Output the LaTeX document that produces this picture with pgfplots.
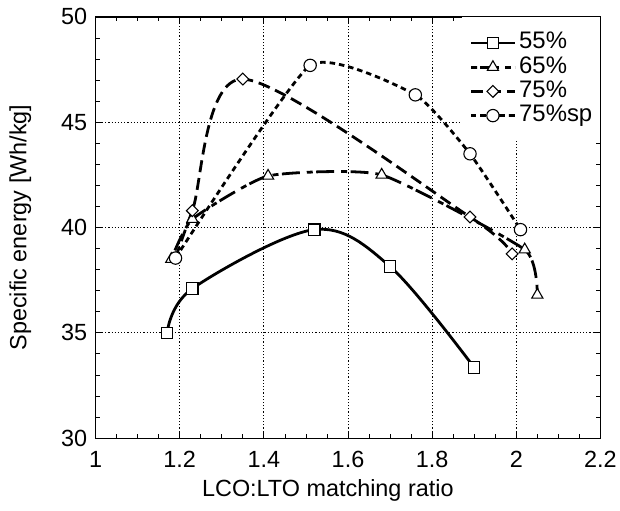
\documentclass[border=0pt]{standalone}
\usepackage{fontspec}
\setmainfont{Liberation Sans}
\usepackage{pgfplots}
\pgfplotsset{compat=1.18}
\begin{document}
\begin{tikzpicture}
\begin{axis}[
 scale only axis, width=507bp, height=423bp,
 xmin=1, xmax=2.2, ymin=30, ymax=50,
 xtick={1,1.2,1.4,1.6,1.8,2,2.2},
 ytick={30,35,40,45,50},
 minor x tick num=3, minor y tick num=4,
 tick align=inside,
 major tick length=7bp, minor tick length=4bp,
 every tick/.style={black, line width=0.8bp},
 axis line style={line width=1.2bp},
 grid=major,
 major grid style={black, line width=0.8bp, dash pattern=on 1.2bp off 2bp},
 /pgf/number format/assume math mode=true,
 tick label style={font=\fontsize{23.5bp}{28bp}\selectfont},
 yticklabel style={xshift=-5bp},
 xticklabel style={yshift=-10bp},
 label style={font=\fontsize{23.5bp}{28bp}\selectfont},
 xlabel={LCO:LTO matching ratio},
 ylabel={Specific energy [Wh/kg]},
 xlabel style={at={(axis description cs:0.46,-0.125)}, anchor=center},
 ylabel style={at={(axis description cs:-0.149,0.5)}, anchor=center},
 legend style={at={(1,1)}, anchor=north east, draw=none, fill=white,
   inner xsep=8bp, inner ysep=16bp, font=\fontsize{24bp}{28bp}\selectfont,
   row sep=4.3bp, column sep=3bp,
   nodes={inner sep=0pt, text height=16bp, text depth=4bp}},
 legend cell align=left,
 legend image code/.code={\draw[mark repeat=2,mark phase=2,#1] plot coordinates {(0bp,0bp) (22bp,0bp) (44bp,0bp)};},
]
\addplot[black, line width=2.8bp, smooth, tension=0.55, mark=square*, mark size=5.7bp,
  mark options={solid, fill=white, line width=1.1bp}]
  coordinates {(1.17,35.0) (1.23,37.1) (1.52,39.9) (1.70,38.15) (1.90,33.35)};
\addlegendentry{55\%}
\addplot[black, line width=2.8bp, smooth, tension=0.3, dash pattern=on 6bp off 3.5bp on 18bp off 7bp,
  mark=triangle*, mark size=6.5bp, mark options={solid, fill=white, line width=1.1bp}]
  coordinates {(1.18,38.5) (1.23,40.4) (1.41,42.45) (1.68,42.5) (2.02,38.95) (2.05,36.8)};
\addlegendentry{65\%}
\addplot[black, line width=2.8bp, smooth, dash pattern=on 12bp off 6bp,
  mark=square*, mark size=4.2bp, mark options={solid, fill=white, line width=1.1bp, rotate=45}]
  coordinates {(1.19,38.55) (1.23,40.8) (1.35,47.05) (1.89,40.5) (1.99,38.75)};
\addlegendentry{75\%}
\addplot[black, line width=2.8bp, smooth, tension=0.3, dash pattern=on 5.5bp off 4bp,
  mark=*, mark size=6.2bp, mark options={solid, fill=white, line width=1.1bp}]
  coordinates {(1.19,38.55) (1.51,47.7) (1.76,46.3) (1.89,43.5) (2.01,39.9)};
\addlegendentry{75\%sp}
\end{axis}
\path (current axis.south west) ++(-96bp,-73bp) (current axis.north east) ++(17bp,17bp);
\end{tikzpicture}
\end{document}
